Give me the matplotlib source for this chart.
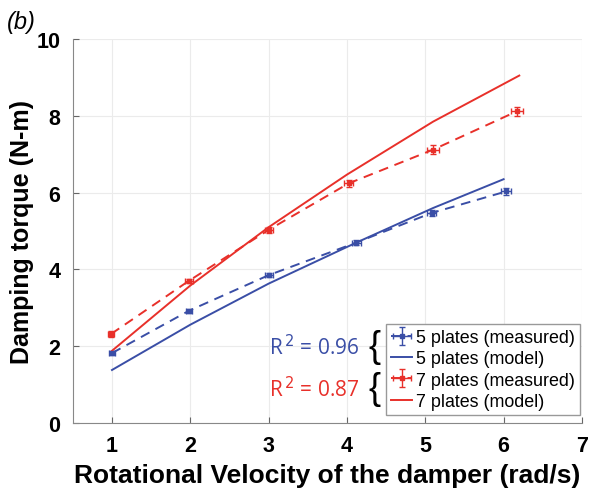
import matplotlib
matplotlib.use('Agg')
import matplotlib.pyplot as plt
import numpy as np

plt.rcParams['font.family'] = ['Liberation Sans', 'DejaVu Sans']

# measured points (rad/s, N-m)
x5_meas = [1.0, 1.98, 3.0, 4.12, 5.08, 6.03]
y5_meas = [1.82, 2.92, 3.85, 4.70, 5.47, 6.03]
x5_err = [0.04, 0.04, 0.05, 0.06, 0.06, 0.06]
y5_err = [0.05, 0.05, 0.06, 0.06, 0.07, 0.08]

x7_meas = [0.99, 1.98, 3.0, 4.02, 5.1, 6.17]
y7_meas = [2.32, 3.70, 5.03, 6.24, 7.12, 8.12]
x7_err = [0.04, 0.05, 0.05, 0.06, 0.08, 0.08]
y7_err = [0.08, 0.06, 0.07, 0.08, 0.12, 0.12]

# model curves
x5_model = [1.0, 2.0, 3.0, 4.1, 5.1, 6.0]
y5_model = [1.38, 2.56, 3.63, 4.68, 5.6, 6.35]
x7_model = [1.0, 2.0, 3.0, 4.0, 5.1, 6.2]
y7_model = [1.88, 3.58, 5.1, 6.47, 7.85, 9.05]

blue = '#3a4ea6'
red = '#e8302a'

fig = plt.figure(figsize=(5.92, 4.89), dpi=100)
ax = fig.add_axes([0.123, 0.133, 0.86, 0.785])

ax.grid(True, color='#ebebeb', linewidth=0.8)
ax.set_axisbelow(True)

h1 = ax.errorbar(x5_meas, y5_meas, xerr=x5_err, yerr=y5_err, color=blue, ls='--', lw=1.4,
                 marker='s', ms=3.5, capsize=2, elinewidth=1, dashes=(5, 3.5),
                 label='5 plates (measured)')
h2, = ax.plot(x5_model, y5_model, color=blue, lw=1.4, label='5 plates (model)')
h3 = ax.errorbar(x7_meas, y7_meas, xerr=x7_err, yerr=y7_err, color=red, ls='--', lw=1.4,
                 marker='s', ms=3.5, capsize=2, elinewidth=1, dashes=(5, 3.5),
                 label='7 plates (measured)')
h4, = ax.plot(x7_model, y7_model, color=red, lw=1.4, label='7 plates (model)')

ax.set_xlim(0.5, 7)
ax.set_ylim(0, 10)
ax.set_xticks(np.arange(1, 8))
ax.set_yticks(np.arange(0, 11, 2))
for lab in ax.get_xticklabels() + ax.get_yticklabels():
    lab.set_fontweight('bold')
    lab.set_fontsize(15.5)
ax.tick_params(length=4, direction='in', colors='#666666', labelcolor='black', pad=9)
ax.spines['top'].set_visible(False)
ax.spines['right'].set_visible(False)
for s in ['left', 'bottom']:
    ax.spines[s].set_color('#888888')

ax.set_xlabel('Rotational Velocity of the damper (rad/s)', fontsize=19, fontweight='bold', labelpad=5)
ax.set_ylabel('Damping torque (N-m)', fontsize=18, fontweight='bold', labelpad=2)

leg = ax.legend([h1, h2, h3, h4],
                ['5 plates (measured)', '5 plates (model)', '7 plates (measured)', '7 plates (model)'],
                loc='lower right', bbox_to_anchor=(0.996, 0.02), fontsize=12.9, frameon=True,
                fancybox=False, framealpha=1, edgecolor='#999999', handlelength=1.15,
                handletextpad=0.2, borderpad=0.3, labelspacing=0.24, borderaxespad=0.0)
leg.get_frame().set_linewidth(1.0)

ax.text(3.0, 2.0, r'R$^{\,2}$ = 0.96', color=blue, fontsize=15, va='center', ha='left',
        family='Open Sans')
ax.text(3.0, 0.89, r'R$^{\,2}$ = 0.87', color=red, fontsize=15, va='center', ha='left',
        family='Open Sans')
ax.text(4.27, 2.0, '{', color='black', fontsize=26, va='center', ha='left')
ax.text(4.27, 0.89, '{', color='black', fontsize=26, va='center', ha='left')

fig.text(0.012, 0.955, '(b)', fontsize=17, fontstyle='italic', va='center', ha='left')

plt.savefig('out.png', dpi=100)
